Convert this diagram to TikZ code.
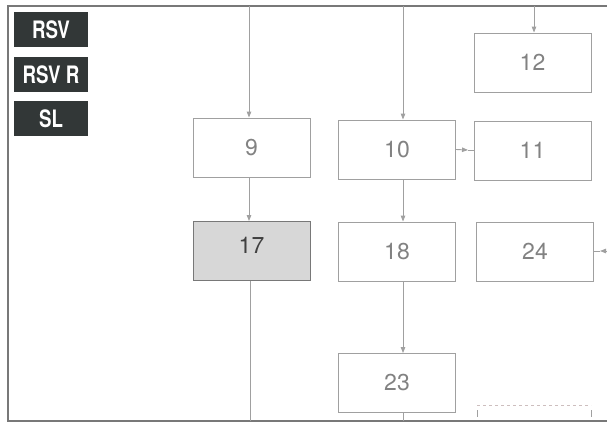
\documentclass[tikz,border=0pt]{standalone}
\usepackage{fontspec}
\setmainfont{TeX Gyre Heros}
\usetikzlibrary{arrows.meta}

\definecolor{framegray}{RGB}{120,120,120}
\definecolor{linegray}{RGB}{160,160,160}
\definecolor{textgray}{RGB}{130,130,130}
\definecolor{tabdark}{RGB}{50,55,55}
\definecolor{hilite}{RGB}{215,215,215}
\definecolor{dashgray}{RGB}{205,190,190}

\tikzset{
  blk/.style={draw=linegray, line width=0.9pt, minimum width=117pt, minimum height=59pt,
    inner sep=0pt, text=textgray, font=\fontsize{23}{23}\selectfont},
  tab/.style={fill=tabdark, text=white, minimum width=74pt, minimum height=35pt,
    inner sep=0pt, font=\fontsize{24}{24}\selectfont\bfseries},
  wire/.style={draw=linegray, line width=0.9pt},
}

\begin{document}
\begin{tikzpicture}[x=1pt,y=-1pt,>={Triangle[length=6pt,width=4.5pt]}]

  \useasboundingbox (0,0) rectangle (607,423);

  % Frame
  \draw[framegray, line width=1.2pt] (607,6) -- (8,6) -- (8,421) -- (607,421);

  % Tabs
  \node[tab] (rsv)  at (51,29.5)  {\scalebox{0.78}[1]{RSV}};
  \node[tab] (rsvr) at (51,74.5)  {\scalebox{0.78}[1]{RSV R}};
  \node[tab] (sl)   at (51,118.5) {\scalebox{0.78}[1]{SL}};

  % Blocks
  \node[blk] (n9)  at (251.5,147.5) {9};
  \node[blk] (n10) at (397,149.5)   {10};
  \node[blk] (n11) at (532.5,150.5) {11};
  \node[blk] (n12) at (532.5,62.5)  {12};
  \node[blk, fill=hilite, draw=framegray, text=black!75, text depth=12pt] (n17) at (251.5,251) {17};
  \node[blk, text depth=-5pt] (n18) at (397,251.5) {18};
  \node[blk] (n24) at (535,251.5)   {24};
  \node[blk] (n23) at (397,383)     {23};

  % Free ends on the frame
  \coordinate (t9)  at (249,6);
  \coordinate (t10) at (403,6);
  \coordinate (t12) at (534,6);
  \coordinate (b17) at (250,421);
  \coordinate (b23) at (403,421);
  \coordinate (r24) at (607,251);
  \coordinate (m11) at (468,150);
  \coordinate (m24) at (600,251);

  % Connectors
  \draw[wire, ->] (t9)  -- (t9 |- n9.north);
  \draw[wire, ->] (t10) -- (t10 |- n10.north);
  \draw[wire, ->] (t12) -- (t12 |- n12.north);
  \draw[wire, ->] (t9 |- n9.south) -- (t9 |- n17.north);
  \draw[wire, ->] (t10 |- n10.south) -- (t10 |- n18.north);
  \draw[wire, ->] (t10 |- n18.south) -- (t10 |- n23.north);
  \draw[wire, ->] (n10.east) -- (m11);
  \draw[wire] (m11) -- (m11 -| n11.west);
  \draw[wire, ->] (r24) -- (m24);
  \draw[wire] (m24) -- (m24 -| n24.east);
  \draw[wire] (b17 |- n17.south) -- (b17);
  \draw[wire] (b23 |- n23.south) -- (b23);

  % Dashed stub
  \draw[dashgray, dashed, line width=0.8pt] (477,405) -- (591,405);
  \draw[linegray, line width=0.8pt] (477,410) -- (477,417) (591,410) -- (591,417);

\end{tikzpicture}
\end{document}
